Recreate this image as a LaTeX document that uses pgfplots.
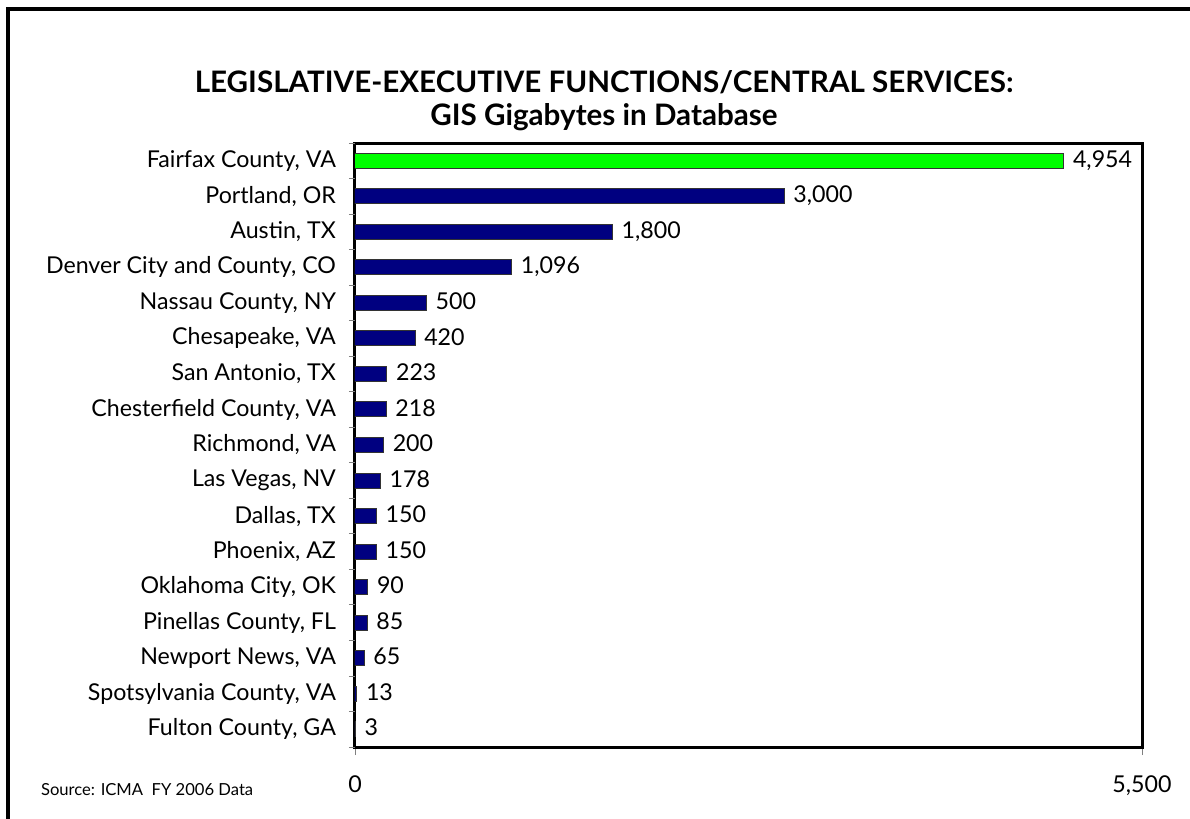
\documentclass[border=0pt]{standalone}
\usepackage{fontspec}
\setmainfont{Lato}
\usepackage{pgfplots}
\pgfplotsset{compat=1.18}
\definecolor{barnavy}{HTML}{000080}
\definecolor{bargreen}{HTML}{00FF00}

\begin{document}
\begin{tikzpicture}
% page frame (only left and top edges show)
\path[use as bounding box] (0,0) rectangle (595pt,-409.5pt);
\draw[line width=2pt] (4pt,-409.5pt) -- (4pt,-4.5pt) -- (595pt,-4.5pt);

\node[font=\bfseries\fontsize{14.8}{16.5}\selectfont, align=center] at (302pt,-50.5pt)
  {LEGISLATIVE-EXECUTIVE FUNCTIONS/CENTRAL SERVICES:\\GIS Gigabytes in Database};
\node[anchor=west, font=\fontsize{8.3}{10}\selectfont] at (17pt,-395pt) {Source: ICMA\ \ FY 2006 Data};

\begin{axis}[
    at={(177.5pt,-373.5pt)}, anchor=south west,
    scale only axis,
    width=393.5pt, height=302pt,
    xbar, bar width=7.5pt, bar shift=0pt,
    xmin=0, xmax=5500,
    ymin=-0.5, ymax=16.5,
    y dir=reverse,
    axis line style={line width=1.5pt},
    font=\fontsize{11.6}{13}\selectfont,
    tick pos=left,
    xtick={0,5500},
    x tick style={gray, thin},
    tick align=outside,
    major tick length=4pt,
    xticklabel style={yshift=-7pt},
    /pgf/number format/.cd, fixed, precision=0, 1000 sep={,}, assume math mode=true,
    /pgfplots/.cd,
    ytick={0,...,16},
    yticklabels={Fairfax County{,} VA, Portland{,} OR, Austin{,} TX, Denver City and County{,} CO,
      Nassau County{,} NY, Chesapeake{,} VA, San Antonio{,} TX, Chesterfield County{,} VA,
      Richmond{,} VA, Las Vegas{,} NV, Dallas{,} TX, Phoenix{,} AZ, Oklahoma City{,} OK,
      Pinellas County{,} FL, Newport News{,} VA, Spotsylvania County{,} VA, Fulton County{,} GA},
    y tick style={draw=none},
    yticklabel style={xshift=-2pt},
    extra y ticks={-0.5,0.5,...,16.5},
    extra y tick labels={},
    extra y tick style={y tick style={draw=gray, thin}, major tick length=3pt},
    point meta=x,
    nodes near coords={\pgfmathprintnumber{\pgfplotspointmeta}},
    nodes near coords style={anchor=west, xshift=1pt, text height=1.6ex, text depth=0.3ex,
      font=\fontsize{11.6}{13}\selectfont},
]
\addplot[fill=bargreen, draw=black!80, line width=0.5pt] coordinates {(4954,0)};
\addplot[fill=barnavy, draw=black!80, line width=0.5pt] coordinates {
    (3000,1) (1800,2) (1096,3) (500,4) (420,5) (223,6) (218,7) (200,8)
    (178,9) (150,10) (150,11) (90,12) (85,13) (65,14) (13,15) (3,16)
};
\end{axis}
\end{tikzpicture}
\end{document}
